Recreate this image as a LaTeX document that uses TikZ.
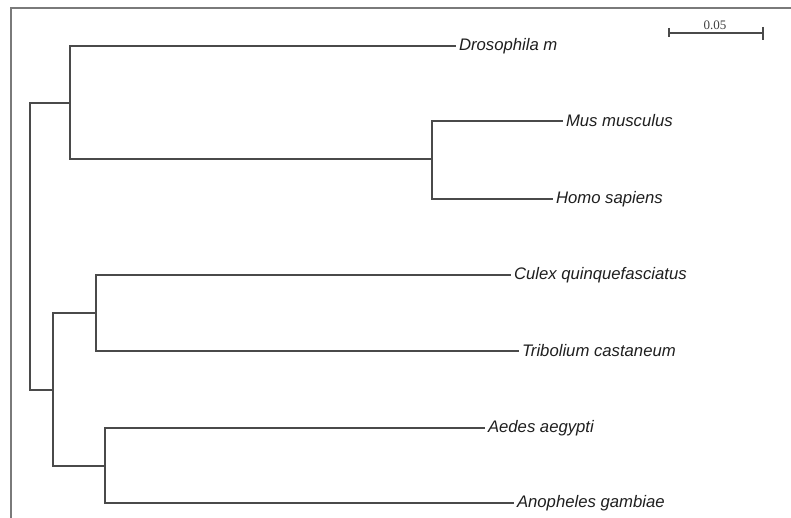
\documentclass[tikz,border=0pt]{standalone}
\usepackage{fontspec}
\setmainfont{Liberation Sans}
\newfontfamily\barserif{Liberation Serif}
\definecolor{branch}{HTML}{4A4A4A}
\definecolor{frame}{HTML}{7A7A7A}
\tikzset{
  edge/.style={draw=branch, line width=1.7pt, line cap=rect},
  taxon/.style={anchor=west, inner sep=4pt, outer sep=0pt, text=black!88,
    font=\fontsize{16.7}{18}\selectfont\itshape},
  framebar/.style={draw=frame, line width=2pt},
  barlabel/.style={inner sep=0pt, text=black!75, font=\barserif\fontsize{13}{14}\selectfont}
}
\begin{document}
\begin{tikzpicture}[x=1pt,y=-1pt]
\useasboundingbox (0,0) rectangle (791,518);
\fill[white] (0,0) rectangle (791,518);
% frame (top and left edges)
\draw[framebar] (11,520) -- (11,8.5) -- (792,8.5);

% internal nodes
\coordinate (root) at (30,246.5);
\coordinate (A) at (70,103);
\coordinate (M) at (432,159);
\coordinate (B) at (53,390);
\coordinate (C) at (96,313);
\coordinate (D) at (105,466);

% taxa
\node[taxon] (dros) at (455,46) {Drosophila m};
\node[taxon] (mus) at (562,121) {Mus musculus};
\node[taxon] (homo) at (552,199) {Homo sapiens};
\node[taxon] (culex) at (510,275) {Culex quinquefasciatus};
\node[taxon] (trib) at (518,351) {Tribolium castaneum};
\node[taxon] (aedes) at (484,428) {Aedes aegypti};
\node[taxon] (anoph) at (513,503) {Anopheles gambiae};

% branches
\draw[edge] (root) |- (A);
\draw[edge] (root) |- (B);
\draw[edge] (A) |- (dros.west);
\draw[edge] (A) |- (M);
\draw[edge] (M) |- (mus.west);
\draw[edge] (M) |- (homo.west);
\draw[edge] (B) |- (C);
\draw[edge] (B) |- (D);
\draw[edge] (C) |- (culex.west);
\draw[edge] (C) |- (trib.west);
\draw[edge] (D) |- (aedes.west);
\draw[edge] (D) |- (anoph.west);

% scale bar
\coordinate (s1) at (669,33);
\coordinate (s2) at (763,33);
\draw[draw=branch, line width=1.3pt] (s1) -- (s2);
\draw[draw=branch, line width=1.3pt] ([yshift=5pt]s1) -- ([yshift=-4pt]s1);
\draw[draw=branch, line width=1.3pt] ([yshift=6pt]s2) -- ([yshift=-7pt]s2);
\node[barlabel] (bar) at (715,25) {0.05};
\end{tikzpicture}
\end{document}
